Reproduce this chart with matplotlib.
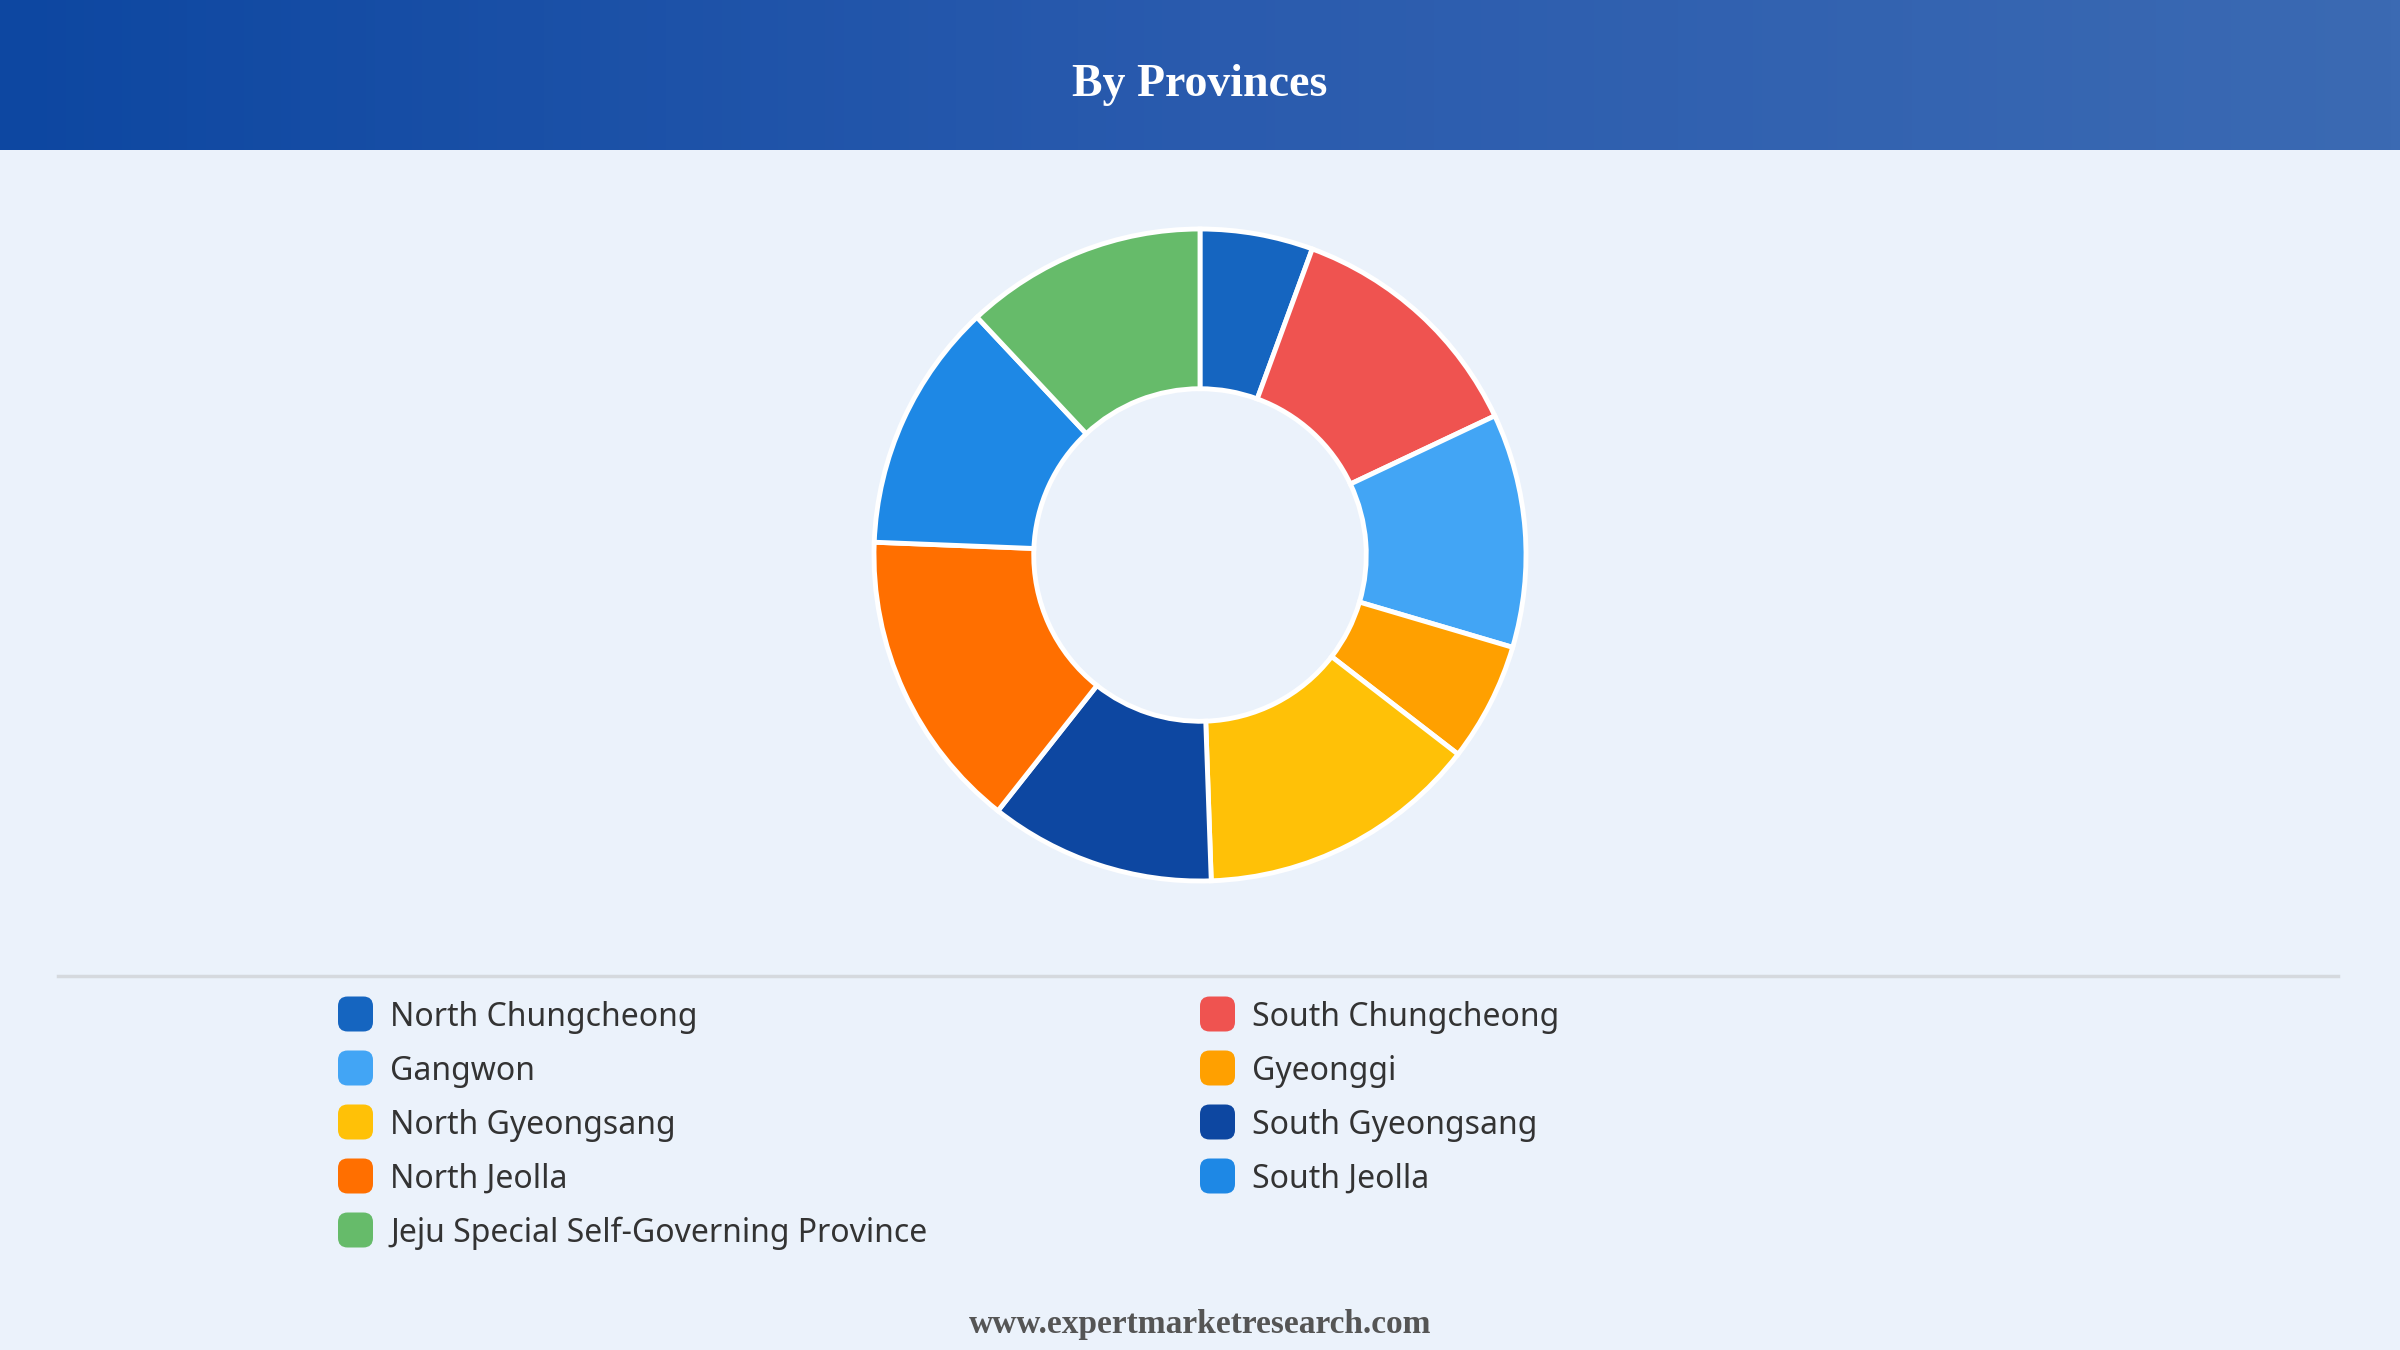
import numpy as np
import matplotlib.pyplot as plt
from matplotlib.patches import FancyBboxPatch
from matplotlib.colors import LinearSegmentedColormap

provinces = ["North Chungcheong", "South Chungcheong", "Gangwon", "Gyeonggi",
             "North Gyeongsang", "South Gyeongsang", "North Jeolla", "South Jeolla",
             "Jeju Special Self-Governing Province"]
shares = [5.6, 12.4, 11.6, 5.9, 14.0, 11.2, 15.0, 12.4, 12.0]
colors = ["#1565C0", "#EF5350", "#42A5F5", "#FFA000", "#FFC107",
          "#0D47A1", "#FF6F00", "#1E88E5", "#66BB6A"]

W, H = 2400, 1350
bg = "#EBF2FB"
fig = plt.figure(figsize=(24, 13.5), dpi=100, facecolor=bg)

# header band with gradient
hdr_h = 150
hax = fig.add_axes([0, 1 - hdr_h / H, 1, hdr_h / H])
cmap = LinearSegmentedColormap.from_list("hdr", ["#0D47A1", "#2A5BAE", "#3B6AB3"])
hax.imshow(np.linspace(0, 1, 256).reshape(1, -1), aspect="auto", cmap=cmap,
           extent=[0, 1, 0, 1])
hax.set_axis_off()
fig.text(0.5, 1 - 85 / H, "By Provinces", ha="center", va="center", color="white",
         fontsize=33, fontweight="bold", family="Liberation Serif")

# donut
cx, cy, r_out = 1200, 555, 326
box = r_out * 2.2
pax = fig.add_axes([(cx - box / 2) / W, 1 - (cy + box / 2) / H, box / W, box / H])
pax.pie(shares, colors=colors, startangle=90, counterclock=False, radius=1,
        wedgeprops=dict(width=0.49, edgecolor="white", linewidth=3.5))
pax.set_xlim(-1.1, 1.1)
pax.set_ylim(-1.1, 1.1)
pax.set_aspect("equal")
pax.set_axis_off()

# separator line
fig.add_artist(plt.Line2D([58 / W, 2338 / W], [1 - 976 / H, 1 - 976 / H],
                          color="#D5D9DE", linewidth=2.5))

# legend
row_y = [1014, 1068, 1122, 1176, 1230]
col_x = [338, 1200]
sq = 35
for i, (name, c) in enumerate(zip(provinces, colors)):
    x = col_x[i % 2]
    y = row_y[i // 2]
    fig.add_artist(FancyBboxPatch(((x) / W, 1 - (y + sq / 2) / H), sq / W, sq / H,
                                  boxstyle="round,pad=0,rounding_size=0.004",
                                  transform=fig.transFigure, facecolor=c,
                                  edgecolor="none", mutation_aspect=W / H))
    fig.text((x + 52) / W, 1 - (y + 3) / H, name, ha="left", va="center",
             fontsize=23, color="#333333", family="Noto Sans")

fig.text(0.5, 1 - 1324 / H, "www.expertmarketresearch.com", ha="center", va="center",
         fontsize=24, fontweight="bold", color="#555555", family="Liberation Serif")

fig.savefig("out.png", dpi=100, facecolor=bg)
